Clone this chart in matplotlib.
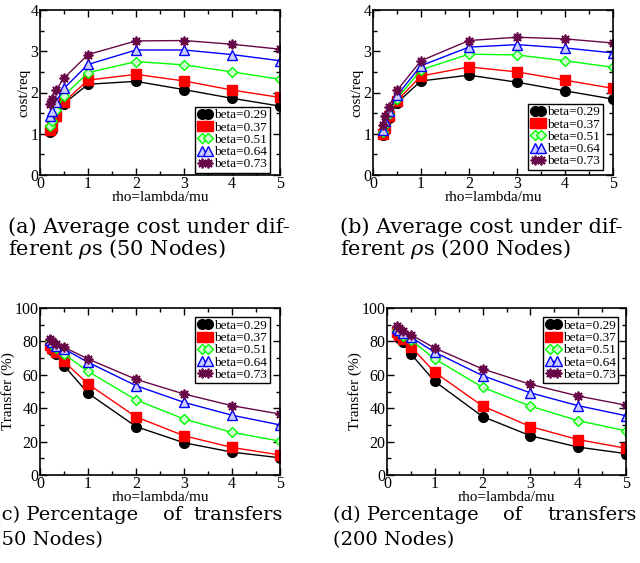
import matplotlib
matplotlib.use('Agg')
import matplotlib.pyplot as plt
from matplotlib.ticker import MultipleLocator

plt.rcParams['font.family'] = ['Liberation Serif', 'DejaVu Serif']
plt.rcParams['mathtext.fontset'] = 'dejavuserif'

rho = [0.2, 0.25, 0.33, 0.5, 1, 2, 3, 4, 5]
betas = ['beta=0.29', 'beta=0.37', 'beta=0.51', 'beta=0.64', 'beta=0.73']

# (a) average cost, 50 nodes
cost_50 = [
    [1.05, 1.10, 1.40, 1.73, 2.20, 2.27, 2.07, 1.86, 1.67],
    [1.08, 1.20, 1.43, 1.77, 2.30, 2.44, 2.28, 2.06, 1.88],
    [1.18, 1.30, 1.57, 1.92, 2.48, 2.75, 2.67, 2.50, 2.32],
    [1.42, 1.55, 1.77, 2.10, 2.68, 3.03, 3.03, 2.92, 2.77],
    [1.72, 1.85, 2.05, 2.35, 2.92, 3.25, 3.26, 3.17, 3.05],
]
# (b) average cost, 200 nodes
cost_200 = [
    [0.97, 1.10, 1.38, 1.75, 2.28, 2.42, 2.25, 2.04, 1.84],
    [1.00, 1.15, 1.42, 1.80, 2.40, 2.62, 2.50, 2.30, 2.10],
    [1.05, 1.22, 1.47, 1.85, 2.55, 2.93, 2.91, 2.77, 2.61],
    [1.10, 1.30, 1.55, 1.93, 2.65, 3.10, 3.16, 3.08, 2.96],
    [1.22, 1.42, 1.65, 2.05, 2.77, 3.26, 3.34, 3.30, 3.20],
]
# (c) transfers, 50 nodes
transfer_50 = [
    [77.0, 75.0, 72.5, 65.5, 49.0, 29.0, 19.3, 13.7, 10.3],
    [78.0, 76.0, 73.5, 68.0, 54.5, 34.8, 23.5, 16.5, 12.0],
    [80.0, 78.0, 76.0, 72.5, 62.0, 45.0, 33.5, 25.5, 20.3],
    [81.0, 79.5, 77.5, 75.5, 67.5, 53.5, 43.5, 35.8, 30.0],
    [81.5, 80.0, 78.5, 76.5, 69.5, 57.3, 48.5, 41.5, 36.5],
]
# (d) transfers, 200 nodes
transfer_200 = [
    [84.5, 82.0, 79.5, 72.5, 56.0, 35.0, 23.5, 16.7, 12.8],
    [85.5, 84.0, 81.5, 76.8, 61.5, 41.3, 29.0, 21.2, 16.0],
    [87.0, 85.5, 83.5, 80.8, 69.5, 52.5, 41.2, 32.5, 26.5],
    [88.0, 87.0, 85.0, 82.5, 73.5, 59.5, 49.2, 41.5, 35.5],
    [89.0, 88.0, 86.0, 84.0, 76.0, 63.5, 54.3, 47.3, 41.8],
]

styles = [
    dict(color='black', marker='o', mfc='black', ms=7, mew=1.0),
    dict(color='red', marker='s', mfc='red', ms=6.5, mew=1.0),
    dict(color='#00ff00', marker='D', mfc='#ccffcc', ms=5.5, mew=1.0),
    dict(color='blue', marker='^', mfc='#ccccff', ms=6.5, mew=1.0),
    dict(color='#670748', marker=(8, 2, 0), mfc='#670748', ms=7, mew=1.3),
]

W, H = 640, 563
fig = plt.figure(figsize=(W / 100, H / 100), dpi=100)


def make_axes(left, right, top, bottom):
    return fig.add_axes([left / W, (H - bottom) / H, (right - left) / W, (bottom - top) / H])


def draw(ax, data, ymax, ymajor, yminor, ylabel, legloc, anchor):
    for i, series in enumerate(data):
        st = styles[i]
        ax.plot(rho, series, color=st['color'], marker=st['marker'], mfc=st['mfc'],
                mec=st['color'], ms=st['ms'], mew=st['mew'], lw=1.0, label=betas[i])
    ax.set_xlim(0, 5)
    ax.set_ylim(0, ymax)
    ax.xaxis.set_major_locator(MultipleLocator(1))
    ax.xaxis.set_minor_locator(MultipleLocator(0.5))
    ax.yaxis.set_major_locator(MultipleLocator(ymajor))
    ax.yaxis.set_minor_locator(MultipleLocator(yminor))
    ax.tick_params(which='both', direction='in', top=True, right=True, labelsize=11.5, width=1)
    ax.tick_params(which='major', length=5, pad=1)
    ax.tick_params(which='minor', length=3)
    for s in ax.spines.values():
        s.set_linewidth(1.2)
    ax.set_xlabel('rho=lambda/mu', fontsize=11, labelpad=-1)
    ax.set_ylabel(ylabel, fontsize=11, labelpad=0)
    leg = ax.legend(loc=legloc, bbox_to_anchor=anchor, fontsize=9.5, numpoints=2,
                    handlelength=1.1, handletextpad=0.15, labelspacing=0.0,
                    borderpad=0.2, borderaxespad=0.0, fancybox=False, framealpha=1)
    leg.get_frame().set_edgecolor('black')
    leg.get_frame().set_linewidth(1.0)


ax_a = make_axes(40, 280, 10, 175)
draw(ax_a, cost_50, 4, 1, 0.5, 'cost/req', 'lower right', (0.958, 0.012))
ax_b = make_axes(373, 613, 10, 175)
draw(ax_b, cost_200, 4, 1, 0.5, 'cost/req', 'lower right', (0.958, 0.03))
ax_c = make_axes(40, 280, 308, 475)
draw(ax_c, transfer_50, 100, 20, 10, 'Transfer (%)', 'upper right', (0.958, 0.946))
ax_d = make_axes(387, 626, 308, 475)
draw(ax_d, transfer_200, 100, 20, 10, 'Transfer (%)', 'upper right', (0.967, 0.946))


def caption(x, y, s, ha='left', size=15):
    fig.text(x / W, 1 - y / H, s, fontsize=size, ha=ha, va='baseline', family='DejaVu Serif')


caption(8, 233, '(a) Average cost under dif-')
caption(8, 255, r'ferent $\rho$s (50 Nodes)')
caption(340, 233, '(b) Average cost under dif-')
caption(340, 255, r'ferent $\rho$s (200 Nodes)')

caption(-6, 520, '(c) Percentage', size=14)
caption(163, 520, 'of', size=14)
caption(283, 520, 'transfers', ha='right', size=14)
caption(-6, 545, '(50 Nodes)', size=14)
caption(333, 520, '(d) Percentage', size=14)
caption(503, 520, 'of', size=14)
caption(637, 520, 'transfers', ha='right', size=14)
caption(333, 545, '(200 Nodes)', size=14)

fig.savefig('out.png', dpi=100)
